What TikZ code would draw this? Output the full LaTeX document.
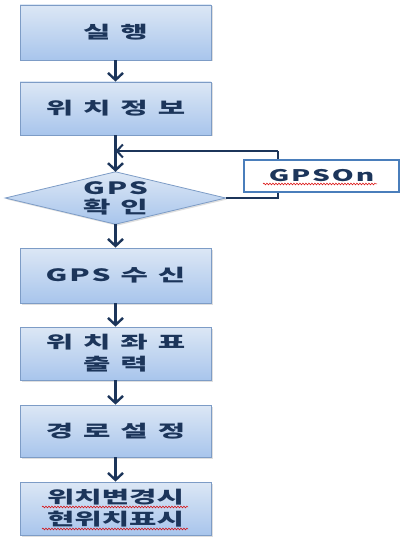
\documentclass[tikz,border=0pt]{standalone}
\usepackage{fontspec}
\newfontfamily\kr[FakeStretch=1.75,BoldFont={Noto Sans CJK KR Black}]{Noto Sans CJK KR}
\usetikzlibrary{arrows.meta,shadows,decorations.pathmorphing}
\definecolor{boxtop}{HTML}{DCE7F5}
\definecolor{boxbot}{HTML}{A8C5EC}
\definecolor{boxline}{HTML}{7D9CC6}
\definecolor{navy}{HTML}{1C355A}
\definecolor{gpsline}{HTML}{4A7EBB}
\newcommand\kg{\hspace{10pt}}
\newcommand\lat[1]{{\addfontfeature{LetterSpace=12}#1}}
\tikzset{
  x=1pt,y=1pt,
  box/.style={draw=boxline, line width=0.8pt, top color=boxtop, bottom color=boxbot,
    minimum width=191, inner sep=0pt, align=center, text=navy,
    font=\kr\bfseries\fontsize{17}{22}\selectfont,
    drop shadow={opacity=0.25, shadow xshift=1.5pt, shadow yshift=-1.5pt}},
  flow/.style={draw=navy, line width=2.8pt, -{Straight Barb[length=7pt,width=15pt,line width=2.4pt]}},
  loopflow/.style={draw=navy, line width=2pt, -{Straight Barb[length=6pt,width=13pt,line width=2pt]}},
  loopline/.style={draw=navy, line width=2pt},
  spell/.style={draw=red!85!black, line width=0.5pt, decorate,
    decoration={snake, amplitude=0.9pt, segment length=3pt}}
}
\begin{document}
\begin{tikzpicture}
\useasboundingbox (0,0) rectangle (403,-537);
% boxes
\node[box, minimum height=55] (b1) at (115.5,-32.5) {실\kg 행};
\node[box, minimum height=53] (b2) at (115.5,-108.5) {위\kg 치\kg 정\kg 보};
% diamond
\node[minimum width=220, minimum height=52, inner sep=0pt] (d) at (115.5,-198) {};
\path[draw=boxline, line width=0.8pt, top color=boxtop, bottom color=boxbot,
  drop shadow={opacity=0.25, shadow xshift=1.5pt, shadow yshift=-1.5pt}]
  (d.west) -- (d.north) -- (d.east) -- (d.south) -- cycle;
\node[align=center, text=navy, font=\kr\bfseries\fontsize{17}{19}\selectfont] (dt) at (d.center) {\lat{GPS}\\확\kg 인};
\node[box, minimum height=55] (b3) at (115.5,-275.5) {\lat{GPS}\kg 수\kg 신};
\node[box, minimum height=53] (b4) at (115.5,-353.5) {위\kg 치\kg 좌\kg 표\\출\kg 력};
\node[box, minimum height=52] (b5) at (115.5,-431) {경\kg 로\kg 설\kg 정};
\node[box, minimum height=53] (b6) at (115.5,-508.5) {위치변경시\\현위치표시};
% loop
\coordinate (j) at (115.5,-151);
\coordinate (c1) at (278,-198);
\coordinate (c2) at (278,-151);
\path[loopline] (d.east) -- (c1) -- (c2);
\draw[loopflow] (c2) -- (j);
% GPSOn box
\node[draw=gpsline, line width=2.8pt, fill=white, minimum width=155, minimum height=32,
  inner sep=0pt, text=navy, font=\kr\bfseries\fontsize{16}{18}\selectfont] (g) at (321.5,-176) {\lat{GPSOn}};
% flow arrows
\draw[flow] (b1) -- (b2);
\draw[flow] (b2) -- (d.north);
\draw[flow] (d.south) -- (b3);
\draw[flow] (b3) -- (b4);
\draw[flow] (b4) -- (b5);
\draw[flow] (b5) -- (b6);
% spell-check underlines
\coordinate (s1a) at (263,-184); \coordinate (s1b) at (377,-184);
\draw[spell] (s1a) -- (s1b);
\coordinate (s2a) at (42,-507); \coordinate (s2b) at (188,-507);
\draw[spell] (s2a) -- (s2b);
\coordinate (s3a) at (42,-529); \coordinate (s3b) at (188,-529);
\draw[spell] (s3a) -- (s3b);
\end{tikzpicture}
\end{document}
